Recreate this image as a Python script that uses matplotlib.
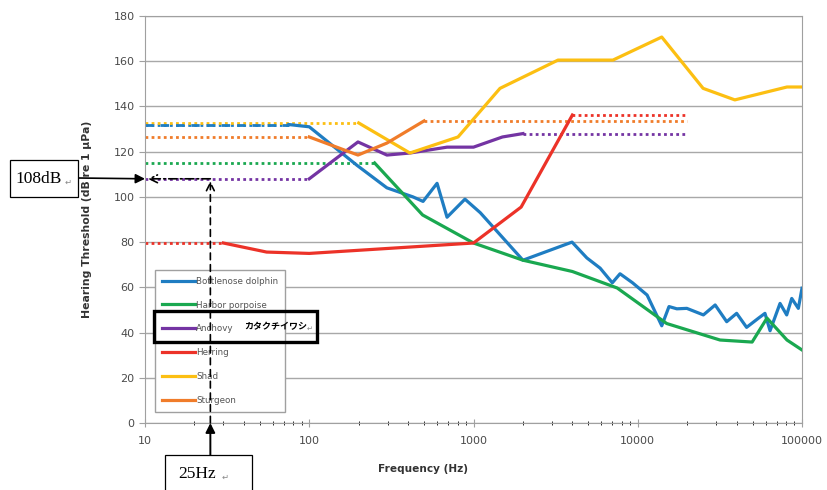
import matplotlib
matplotlib.use("Agg")
import matplotlib.pyplot as plt
from matplotlib.patches import Rectangle
from matplotlib.lines import Line2D
from matplotlib.ticker import FixedLocator, LogLocator, NullFormatter

# hearing thresholds (Hz, dB re 1 uPa)
dolphin_f = [75, 100, 195, 297, 428, 493, 600, 690, 887, 1100, 2000, 3980, 4900,
             5900, 7000, 7800, 9300, 11400, 14000, 15500, 17300, 19900, 25100,
             29600, 34800, 40000, 46000, 54200, 59500, 63900, 73500, 80700,
             86600, 95000, 100000]
dolphin_db = [132, 131, 114, 104, 100, 98, 106, 91, 99, 93, 72, 80, 73,
              68.5, 62, 66, 62, 56.6, 43, 51.5, 50.5, 50.7, 47.8,
              52.2, 44.8, 48.5, 42.3, 46.3, 48.5, 40.8, 52.9, 47.8,
              55.1, 50.7, 59.6]

porpoise_f = [250, 490, 1000, 2000, 4000, 7500, 15000, 31700, 49700, 61200, 81000, 100000]
porpoise_db = [115, 92, 79.6, 72, 67, 59.7, 44, 36.7, 35.8, 46.4, 36.7, 32.3]

anchovy_f = [100, 198, 297, 410, 690, 1000, 1500, 2000]
anchovy_db = [108, 124.3, 118.5, 119.4, 122, 122, 126.5, 128]

herring_f = [30, 55, 100, 1000, 1950, 4000]
herring_db = [79.6, 75.6, 75, 79.6, 95.5, 136.2]

shad_f = [200, 410, 805, 1450, 3270, 7060, 14000, 25000, 39000, 81000, 100000]
shad_db = [132.7, 119.4, 126.5, 148, 160.5, 160.5, 170.7, 148, 142.9, 148.6, 148.6]

sturgeon_f = [100, 198, 297, 500]
sturgeon_db = [126.5, 118.5, 123.8, 133.6]

names = ["Bottlenose dolphin", "Harbor porpoise", "Anchovy", "Herring", "Shad", "Sturgeon"]
colors = ["#1f7dc2", "#1aa850", "#7434a3", "#ec3228", "#fcbf12", "#f07c2a"]
# dotted extrapolation: low end always from 10 Hz, high end only for some fish
ext_high = [None, None, 20000, 20000, None, 20000]

series = [(dolphin_f, dolphin_db), (porpoise_f, porpoise_db), (anchovy_f, anchovy_db),
          (herring_f, herring_db), (shad_f, shad_db), (sturgeon_f, sturgeon_db)]

y_ticks = [0, 20, 40, 60, 80, 100, 120, 140, 160, 180]
x_ticks = [10, 100, 1000, 10000, 100000]
x_ticklabels = ["10", "100", "1000", "10000", "100000"]

W, H = 827, 490


def px(x, y):
    # figure pixel (from top-left) -> figure fraction
    return x / W, 1 - y / H


fig = plt.figure(figsize=(W / 100, H / 100), dpi=100)
ax = fig.add_axes([145 / W, 1 - 423 / H, 657 / W, 407 / H])

dot = (0, (1, 1.2))
for (f, db), c, hi in zip(series, colors, ext_high):
    ax.plot([10, f[0]], [db[0], db[0]], color=c, lw=2, ls=dot, zorder=2)
    if hi:
        ax.plot([f[-1], hi], [db[-1], db[-1]], color=c, lw=2, ls=dot, zorder=2)
# the blue one sits on top of the yellow one as a dash
ax.plot([10, dolphin_f[0]], [dolphin_db[0], dolphin_db[0]], color=colors[0], lw=2,
        ls=(0, (3, 2.5)), zorder=2.5)

for (f, db), c in zip(series, colors):
    ax.plot(f, db, color=c, lw=2.3, solid_joinstyle="round", zorder=3)

ax.set_xscale("log")
ax.set_xlim(10, 100000)
ax.set_ylim(0, 180)
ax.yaxis.set_major_locator(FixedLocator(y_ticks))
ax.xaxis.set_major_locator(FixedLocator(x_ticks))
ax.set_xticklabels(x_ticklabels)
ax.xaxis.set_minor_locator(LogLocator(base=10, subs=range(2, 10)))
ax.xaxis.set_minor_formatter(NullFormatter())
ax.grid(axis="y", color="#a8a8a8", lw=1)
ax.set_axisbelow(True)
for s in ax.spines.values():
    s.set_color("#a0a0a0")
ax.tick_params(axis="both", colors="#a0a0a0", labelcolor="#4a4a4a", labelsize=8)
ax.tick_params(axis="x", which="major", direction="inout", length=6, pad=6)
ax.tick_params(axis="x", which="minor", direction="inout", length=3)
ax.tick_params(axis="y", length=4)

ax.set_xlabel("Frequency (Hz)", fontsize=7.6, fontweight="bold", color="#333333")
ax.xaxis.set_label_coords(0.423, -0.1)
ax.set_ylabel("Hearing Threshold (dB re 1 \u00b5Pa)", fontsize=7.8, fontweight="bold", color="#333333")
ax.yaxis.set_label_coords(-0.081, 0.5)

handles = [Line2D([], [], color=c, lw=2.3) for c in colors]
leg = ax.legend(handles, names, loc="lower left", bbox_to_anchor=(0.015, 0.027),
                borderaxespad=0, fontsize=6.3, handlelength=3.8, handletextpad=0.1,
                labelspacing=1.7, fancybox=False, edgecolor="#a0a0a0",
                borderpad=0.8, framealpha=1)
for t in leg.get_texts():
    t.set_color("#555555")
leg.set_zorder(4)

# hand drawn overlay: 25 Hz -> 108 dB
ax.annotate("", xy=(25, 107), xytext=(25, 0),
            arrowprops=dict(arrowstyle="->", lw=1.2, ls=(0, (4, 3)), color="black",
                            mutation_scale=14, shrinkA=0, shrinkB=0), zorder=6)
ax.annotate("", xy=(10.4, 108), xytext=(25, 108),
            arrowprops=dict(arrowstyle="->", lw=1.2, ls=(0, (5, 2, 1, 2)), color="black",
                            mutation_scale=14, shrinkA=0, shrinkB=0), zorder=6)

fig.add_artist(Rectangle(px(10, 197), 68 / W, 37 / H, transform=fig.transFigure,
                         fill=True, facecolor="white", edgecolor="black", lw=0.9))
fig.text(*px(15, 179), "108dB", fontsize=12.5, family="Liberation Serif", va="center")
fig.text(*px(65, 182), "\u21b5", fontsize=6, color="#888888", va="center")
ax.annotate("", xy=(10, 108), xycoords="data", xytext=px(78, 178),
            textcoords="figure fraction",
            arrowprops=dict(arrowstyle="-|>", lw=1.2, color="black", mutation_scale=14,
                            shrinkA=0, shrinkB=0), annotation_clip=False)

fig.add_artist(Rectangle(px(165, 492), 87 / W, 37 / H, transform=fig.transFigure,
                         fill=True, facecolor="white", edgecolor="black", lw=0.9))
fig.text(*px(178, 474), "25Hz", fontsize=12.5, family="Liberation Serif", va="center")
fig.text(*px(222, 477), "\u21b5", fontsize=6, color="#888888", va="center")
ax.annotate("", xy=(25, 0), xycoords="data", xytext=(25, -14.2), textcoords="data",
            arrowprops=dict(arrowstyle="-|>", lw=1.4, color="black", mutation_scale=14,
                            shrinkA=0, shrinkB=0), annotation_clip=False)

# katakana label boxed around the anchovy entry
fig.add_artist(Rectangle(px(154, 342), 163 / W, 31 / H, transform=fig.transFigure,
                         fill=False, edgecolor="black", lw=2.4, zorder=10))
fig.text(*px(244, 327), "カタクチイワシ", fontsize=6.5, fontweight="bold",
         family=["Noto Sans CJK JP", "DejaVu Sans"], va="center", zorder=11)
fig.text(*px(307, 329), "\u21b5", fontsize=5, color="#888888", va="center", zorder=11)

fig.savefig("out.png", dpi=100)
